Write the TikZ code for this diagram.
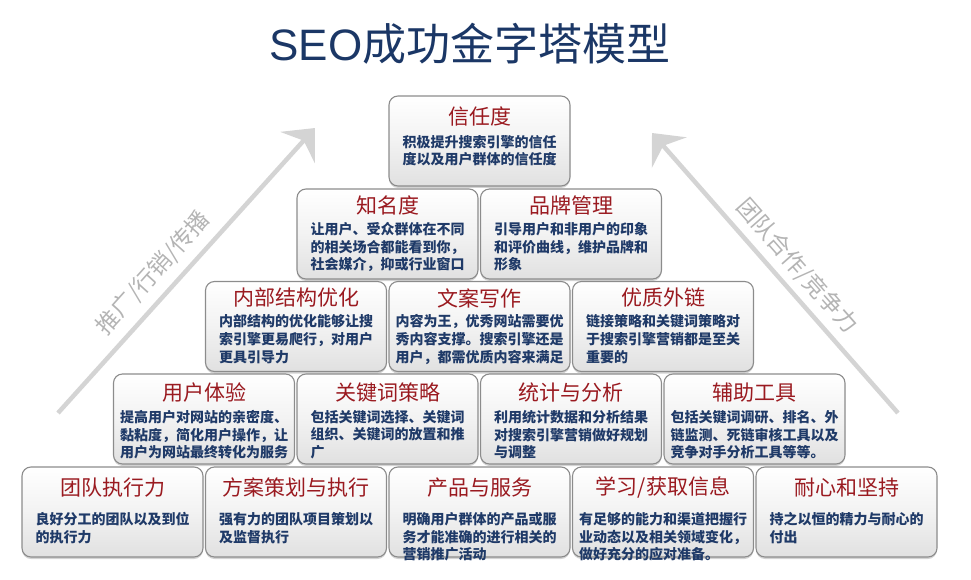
\documentclass[tikz,border=0pt]{standalone}
\usepackage{fontspec}
\setmainfont{Liberation Sans}
\newfontfamily\cjk{Noto Sans CJK SC}
\usetikzlibrary{arrows.meta,shadows,calc}
\definecolor{titleblue}{HTML}{1B3766}
\definecolor{headred}{HTML}{9A1A20}
\definecolor{bodyblue}{HTML}{1F3A68}
\definecolor{boxline}{HTML}{8C8C8C}
\definecolor{arrowgray}{HTML}{D4D4D4}
\definecolor{labelgray}{HTML}{B4B4B4}
\newcommand{\seobox}[7]{%
  \node[card] (#1) at (#2,#3+45) {};
  \node[headtxt] (#1h) at ($(#1.north)+(0,#4)$) {#6};
  \node[bodytxt] (#1b) at ($(#1.north)+(0,#5-6.5)$) {#7};
}
\begin{document}
\begin{tikzpicture}[x=1pt,y=-1pt,
  card/.style={draw=boxline, line width=1.1pt, rounded corners=9pt,
    minimum width=181pt, minimum height=90pt, inner sep=0pt,
    top color=white, bottom color=black!12, middle color=white!95!black,
    drop shadow={opacity=0.35,shadow xshift=0pt,shadow yshift=-2pt}},
  headtxt/.style={inner sep=0pt, text=headred, font=\cjk\fontsize{21}{23}\selectfont},
  bodytxt/.style={anchor=north, inner sep=0pt, align=left, text=bodyblue,
    font=\cjk\bfseries\fontsize{14}{17.8}\selectfont},
  arrowline/.style={draw=arrowgray, line width=4.5pt,
    -{Stealth[length=26pt,width=46pt,inset=9pt]}},
  sidelabel/.style={text=labelgray, inner sep=0pt, font=\cjk\fontsize{23}{23}\selectfont}]
\useasboundingbox (0,0) rectangle (971,580);

% title
\node[text=titleblue, inner sep=0pt, font=\fontsize{44}{44}\selectfont] (title) at (470,44) {SEO{\cjk 成功金字塔模型}};

% side arrows
\coordinate (la0) at (58,413);
\coordinate (la1) at (315,128);
\draw[arrowline] (la0) -- (la1);
\coordinate (ra0) at (898,413);
\coordinate (ra1) at (652,133);
\draw[arrowline] (ra0) -- (ra1);
\node[sidelabel, rotate=48] (ll) at (153,273) {推广/行销/传播};
\node[sidelabel, rotate=-48.7] (rl) at (797,266) {团队合作/竞争力};

% row 5 (bottom)
\seobox{e1}{112.5}{467}{21}{52}{团队执行力}{良好分工的团队以及到位\\的执行力}
\seobox{e2}{296}{467}{21}{52}{方案策划与执行}{强有力的团队项目策划以\\及监督执行}
\seobox{e3}{479.5}{467}{21}{52}{产品与服务}{明确用户群体的产品或服\\务才能准确的进行相关的\\营销推广活动}
\seobox{e4}{663}{467}{21}{52}{学习/获取信息}{有足够的能力和渠道把握行\\业动态以及相关领域变化，\\做好充分的应对准备。}
\seobox{e5}{846.5}{467}{21}{52}{耐心和坚持}{持之以恒的精力与耐心的\\付出}

% row 4
\seobox{d1}{204}{374}{19}{43}{用户体验}{提高用户对网站的亲密度、\\黏粘度，简化用户操作，让\\用户为网站最终转化为服务}
\seobox{d2}{387.5}{374}{19}{43}{关键词策略}{包括关键词选择、关键词\\组织、关键词的放置和推\\广}
\seobox{d3}{571}{374}{19}{43}{统计与分析}{利用统计数据和分析结果\\对搜索引擎营销做好规划\\与调整}
\seobox{d4}{754.5}{374}{19}{43}{辅助工具}{包括关键词调研、排名、外\\链监测、死链审核工具以及\\竞争对手分析工具等等。}

% row 3
\seobox{c1}{296}{281.5}{17}{40}{内部结构优化}{内部结构的优化能够让搜\\索引擎更易爬行，对用户\\更具引导力}
\seobox{c2}{479.5}{281.5}{17}{40}{文案写作}{内容为王，优秀网站需要优\\秀内容支撑。搜索引擎还是\\用户，都需优质内容来满足}
\seobox{c3}{663}{281.5}{17}{40}{优质外链}{链接策略和关键词策略对\\于搜索引擎营销都是至关\\重要的}

% row 2
\seobox{b1}{387.5}{189}{17}{40}{知名度}{让用户、受众群体在不同\\的相关场合都能看到你，\\社会媒介，抑或行业窗口}
\seobox{b2}{571}{189}{17}{40}{品牌管理}{引导用户和非用户的印象\\和评价曲线，维护品牌和\\形象}

% row 1 (top)
\seobox{a1}{479.5}{96}{21}{46}{信任度}{积极提升搜索引擎的信任\\度以及用户群体的信任度}
\end{tikzpicture}
\end{document}
